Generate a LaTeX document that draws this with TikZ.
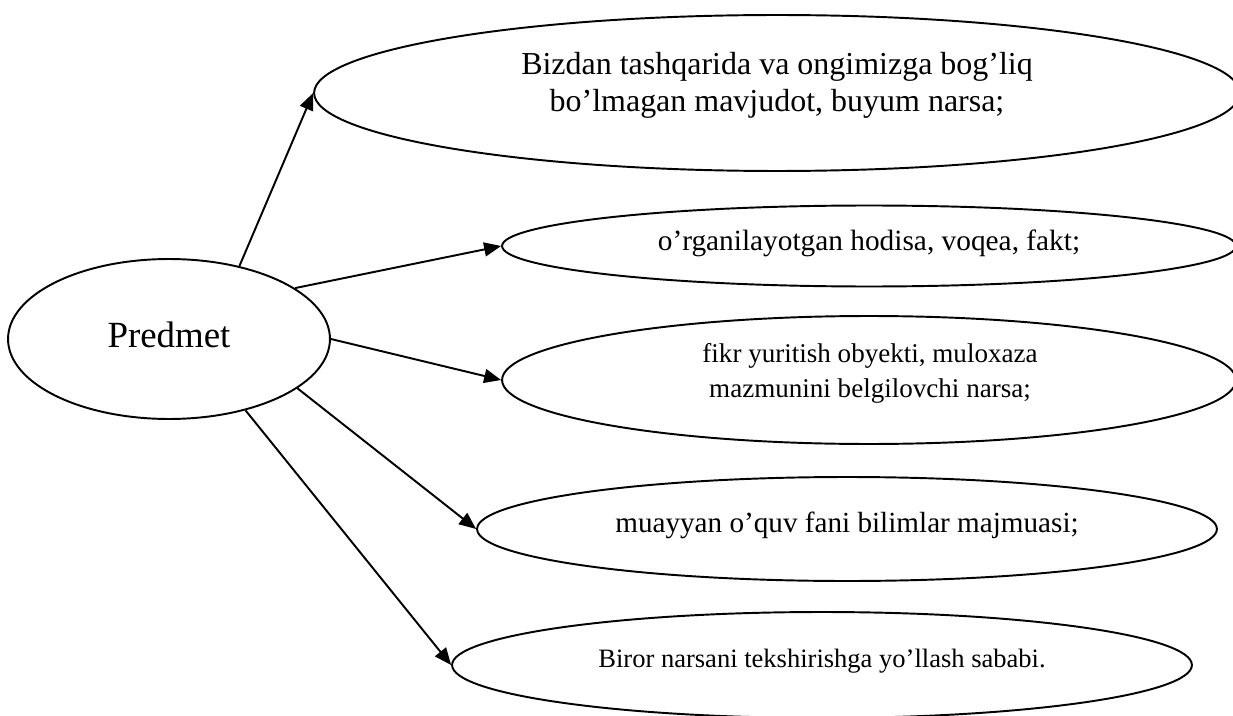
\documentclass[tikz,border=0pt]{standalone}
\usepackage{fontspec}
\setmainfont{Liberation Serif}
\usetikzlibrary{shapes.geometric,arrows.meta}

\begin{document}
\begin{tikzpicture}[
  x=0.02cm, y=-0.02cm,
  oval/.style={ellipse, draw, line width=1.1pt, inner sep=0pt},
  note/.style={align=center, inner sep=0pt},
  arrow/.style={-{Triangle[length=3.4mm,width=2.8mm]}, line width=1.1pt}
]
\clip (0,0) rectangle (1233,716);

\node[oval, minimum width=6.44cm, minimum height=3.2cm] (pred) at (169,339) {};
\node[oval, minimum width=18.52cm, minimum height=3.12cm] (e1) at (777,93) {};
\node[oval, minimum width=14.68cm, minimum height=1.62cm] (e2) at (869,246) {};
\node[oval, minimum width=14.68cm, minimum height=2.56cm] (e3) at (869,380) {};
\node[oval, minimum width=14.8cm, minimum height=2.08cm] (e4) at (847,529) {};
\node[oval, minimum width=14.8cm, minimum height=2.12cm] (e5) at (822,665) {};

\node[note, font=\fontsize{21}{25}\selectfont] (t0) at (169,335) {Predmet};
\node[note, font=\fontsize{18.2}{21}\selectfont] (t1) at (777,85) {Bizdan tashqarida va ongimizga bog’liq\\bo’lmagan mavjudot, buyum narsa;};
\node[note, font=\fontsize{16.7}{20}\selectfont] (t2) at (869,243) {o’rganilayotgan hodisa, voqea, fakt;};
\node[note, font=\fontsize{15.4}{20}\selectfont] (t3) at (870,373) {fikr yuritish obyekti, muloxaza\\mazmunini belgilovchi narsa;};
\node[note, font=\fontsize{16.6}{20}\selectfont] (t4) at (847,525) {muayyan o’quv fani bilimlar majmuasi;};
\node[note, font=\fontsize{15.1}{18}\selectfont] (t5) at (822,661) {Biror narsani tekshirishga yo’llash sababi.};

\draw[arrow] (pred.46) -- (e1.west);
\draw[arrow] (pred.22) -- (e2.west);
\draw[arrow] (pred.0) -- (e3.west);
\draw[arrow] (pred.-21) -- (e4.west);
\draw[arrow] (pred.-43) -- (e5.west);

\end{tikzpicture}
\end{document}
